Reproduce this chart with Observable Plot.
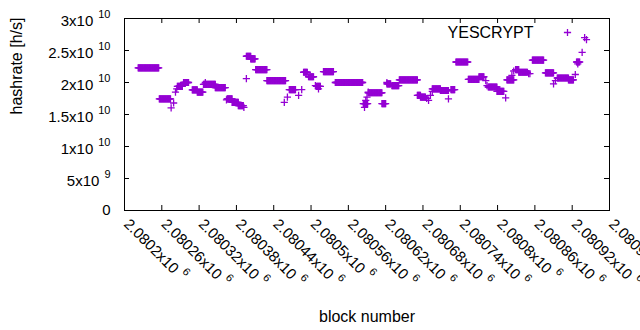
<!DOCTYPE html>
<html>
<head>
<meta charset="utf-8">
<script src="https://cdn.jsdelivr.net/npm/d3@7"></script>
<script src="https://cdn.jsdelivr.net/npm/@observablehq/plot@0.6"></script>
<style>
  html, body { margin: 0; padding: 0; background: #fff; }
  #chart { width: 640px; height: 330px; overflow: hidden; }
</style>
</head>
<body>
<div id="chart"></div>
<script>
// ---- data ----
// runs of consecutive blocks that share one hashrate value (h/s)
const runStart = [2080222, 2080256, 2080285, 2080295, 2080309, 2080317, 2080327, 2080346, 2080365, 2080373,
                  2080383, 2080396, 2080403, 2080411, 2080429, 2080465, 2080488, 2080496, 2080509, 2080520,
                  2080539, 2080584, 2080592, 2080614, 2080622, 2080630, 2080642, 2080671, 2080676, 2080695,
                  2080708, 2080725, 2080733, 2080753, 2080770, 2080785, 2080799, 2080815, 2080829, 2080834,
                  2080856, 2080877, 2080896, 2080914, 2080927];
const runEnd   = [2080255, 2080274, 2080293, 2080303, 2080317, 2080326, 2080346, 2080362, 2080373, 2080383,
                  2080391, 2080403, 2080410, 2080429, 2080459, 2080475, 2080494, 2080504, 2080515, 2080536,
                  2080583, 2080591, 2080614, 2080620, 2080628, 2080641, 2080671, 2080676, 2080684, 2080708,
                  2080721, 2080731, 2080752, 2080770, 2080778, 2080799, 2080810, 2080826, 2080834, 2080848,
                  2080874, 2080890, 2080914, 2080922, 2080932];
const runValue = [2.23e10, 1.745e10, 1.94e10, 2.00e10, 1.885e10, 1.85e10, 1.97e10, 1.92e10, 1.745e10, 1.69e10,
                  1.64e10, 2.41e10, 2.37e10, 2.20e10, 2.03e10, 1.89e10, 2.16e10, 2.09e10, 1.94e10, 2.17e10,
                  2.00e10, 1.67e10, 1.84e10, 1.67e10, 1.98e10, 1.95e10, 2.04e10, 1.80e10, 1.77e10, 1.90e10,
                  1.875e10, 1.89e10, 2.32e10, 2.05e10, 2.09e10, 1.93e10, 1.86e10, 2.04e10, 2.20e10, 2.16e10,
                  2.35e10, 2.15e10, 2.07e10, 2.04e10, 2.32e10];
// single scattered blocks
const pointBlock = [2080275, 2080279, 2080282, 2080284, 2080330, 2080364, 2080392, 2080396, 2080457, 2080462,
                    2080480, 2080485, 2080507, 2080512, 2080586, 2080588, 2080590, 2080592, 2080622, 2080686,
                    2080689, 2080692, 2080695, 2080721, 2080781, 2080783, 2080813, 2080823, 2080826, 2080850,
                    2080852, 2080890, 2080893, 2080925, 2080929, 2080936, 2080940, 2080943];
const pointValue = [1.605e10, 1.68e10, 1.85e10, 1.90e10, 2.00e10, 1.73e10, 1.61e10, 2.06e10, 1.69e10, 1.77e10,
                    1.80e10, 1.89e10, 1.95e10, 1.90e10, 1.61e10, 1.72e10, 1.77e10, 1.85e10, 2.00e10, 1.75e10,
                    1.72e10, 1.80e10, 1.86e10, 1.745e10, 2.03e10, 1.95e10, 1.76e10, 2.11e10, 2.18e10, 2.14e10,
                    2.14e10, 1.98e10, 2.03e10, 2.125e10, 2.29e10, 2.47e10, 2.70e10, 2.67e10];

const seriesName = "YESCRYPT";
const xTicks = [2080200, 2080260, 2080320, 2080380, 2080440, 2080500, 2080560, 2080620, 2080680, 2080740,
                2080800, 2080860, 2080920, 2080980];
const xTickLabels = ["2.0802x10^6", "2.08026x10^6", "2.08032x10^6", "2.08038x10^6", "2.08044x10^6",
                     "2.0805x10^6", "2.08056x10^6", "2.08062x10^6", "2.08068x10^6", "2.08074x10^6",
                     "2.0808x10^6", "2.08086x10^6", "2.08092x10^6", "2.08098x10^6"];
const yTicks = [0, 5e9, 1e10, 1.5e10, 2e10, 2.5e10, 3e10];
const yTickLabels = ["0", "5x10^9", "1x10^10", "1.5x10^10", "2x10^10", "2.5x10^10", "3x10^10"];
const xTitle = "block number";
const yTitle = "hashrate [h/s]";

// ---- table built from the arrays ----
const points = [];
runStart.forEach((s, i) => {
  for (let b = s; b <= runEnd[i]; b++) points.push({block: b, value: runValue[i]});
});
pointBlock.forEach((b, i) => points.push({block: b, value: pointValue[i]}));

const color = "#9400d3";
const plusSymbol = {
  draw(context) {
    const r = 3.6;
    context.moveTo(-r, 0); context.lineTo(r, 0);
    context.moveTo(0, -r); context.lineTo(0, r);
  }
};

const chart = Plot.plot({
  width: 640,
  height: 330,
  marginLeft: 124,
  marginRight: 31,
  marginTop: 18,
  marginBottom: 120,
  style: {fontFamily: "'Liberation Sans', Arial, sans-serif", fontSize: "15px", color: "#000", background: "#fff"},
  x: {domain: [2080200, 2080980]},
  y: {domain: [0, 3e10]},
  marks: [
    // inward ticks on all four sides
    Plot.tickY(yTicks, {y: d => d, insetRight: 480, stroke: "#000"}),
    Plot.tickY(yTicks, {y: d => d, insetLeft: 480, stroke: "#000"}),
    Plot.tickX(xTicks, {x: d => d, insetTop: 187, stroke: "#000"}),
    Plot.tickX(xTicks, {x: d => d, insetBottom: 187, stroke: "#000"}),
    Plot.axisY({ticks: yTicks, tickFormat: d => yTickLabels[yTicks.indexOf(d)], tickSize: 0, tickPadding: 14, label: null}),
    Plot.axisX({ticks: xTicks, tickFormat: d => xTickLabels[xTicks.indexOf(d)], tickSize: 0, tickPadding: 0,
                tickRotate: 45, textAnchor: "start", lineAnchor: "middle", dx: 2, dy: 11, label: null}),
    Plot.dot(points, {x: "block", y: "value", symbol: plusSymbol, fill: "none", stroke: color, strokeWidth: 1.3}),
    Plot.frame({stroke: "#000"}),
    Plot.text([seriesName], {frameAnchor: "top-right", dx: -76, dy: 14, textAnchor: "end", lineAnchor: "middle", fontSize: 16}),
    Plot.dot([seriesName], {frameAnchor: "top-right", dx: -42, dy: 14, symbol: plusSymbol, fill: "none", stroke: color, strokeWidth: 1.3}),
    Plot.text([yTitle], {frameAnchor: "left", dx: -108, rotate: -90, lineAnchor: "middle", fontSize: 16}),
    Plot.text([xTitle], {frameAnchor: "bottom", dy: 106, lineAnchor: "middle", fontSize: 16})
  ]
});

// render the "^" exponents as raised superscripts (gnuplot-style)
const NS = "http://www.w3.org/2000/svg";
function superscript(label, baseShift) {
  chart.querySelectorAll(`g[aria-label="${label}"] text`).forEach(t => {
    const s = t.textContent;
    if (!s.includes("^")) return;
    const [base, exp] = s.split("^");
    t.textContent = "";
    const b = document.createElementNS(NS, "tspan");
    b.setAttribute("dy", baseShift);
    b.textContent = base;
    const e = document.createElementNS(NS, "tspan");
    e.setAttribute("dx", 5);
    e.setAttribute("dy", -8);
    e.setAttribute("font-size", "11px");
    e.textContent = exp;
    t.append(b, e);
  });
}
superscript("y-axis tick label", 3);
superscript("x-axis tick label", 0);

document.getElementById("chart").append(chart);
</script>
</body>
</html>
